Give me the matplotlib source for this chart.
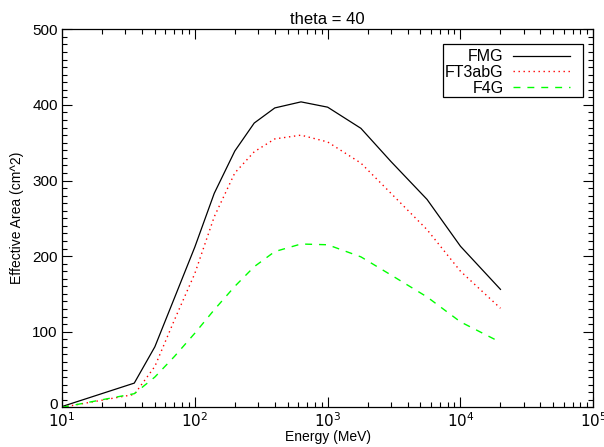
import matplotlib
matplotlib.use("Agg")
import matplotlib.pyplot as plt
import matplotlib.transforms as mtransforms
from matplotlib.patches import Rectangle
from matplotlib.ticker import LogLocator, MultipleLocator, FixedLocator, NullFormatter

plt.rcParams['font.family'] = ['Liberation Sans', 'DejaVu Sans']

energy = [10, 35, 50, 70, 100, 140, 200, 280, 400, 630, 1000, 1780, 3000, 5600, 10000, 20000]
fmg = [1, 32, 80, 144, 212, 283, 339, 376, 396, 404, 397, 369, 325, 275, 213, 156]
ft3abg = [0, 17, 54, 115, 177, 252, 310, 338, 355, 360, 351, 323, 283, 235, 180, 131]
f4g = [0, 18, 40, 67, 98, 129, 160, 186, 206, 216, 215, 199, 175, 146, 113, 86]
series_names = ["FMG", "FT3abG", "F4G"]
title = "theta = 40"
xlabel = "Energy (MeV)"
ylabel = "Effective Area (cm^2)"
xticks = [10, 100, 1000, 10000, 100000]
xticklabels = [r"$10^{1}$", r"$10^{2}$", r"$10^{3}$", r"$10^{4}$", r"$10^{5}$"]
yticks = [0, 100, 200, 300, 400, 500]

fig = plt.figure(figsize=(6.04, 4.47), dpi=100)
ax = fig.add_axes([62/604, 1-407.3/447, (593.3-62)/604, (407.3-29.3)/447])

ax.plot(energy, fmg, color='black', lw=0.9, label=series_names[0])
ax.plot(energy, ft3abg, color='#ff0000', lw=1.0, linestyle=(0, (1, 2.6)), label=series_names[1])
ax.plot(energy, f4g, color='#00ff00', lw=1.0, linestyle=(0, (5, 5)), label=series_names[2])

ax.set_xscale('log')
ax.set_xlim(10, 1e5)
ax.set_ylim(0, 500)
ax.xaxis.set_major_locator(FixedLocator(xticks))
ax.set_xticklabels(xticklabels)
ax.xaxis.set_minor_locator(LogLocator(base=10, subs=range(2, 10), numticks=20))
ax.xaxis.set_minor_formatter(NullFormatter())
ax.yaxis.set_major_locator(FixedLocator(yticks))
ax.yaxis.set_minor_locator(MultipleLocator(10))

ax.tick_params(which='both', direction='in', top=True, right=True, labelsize=11, width=0.8, pad=3)
ax.tick_params(which='major', length=7)
ax.tick_params(which='minor', length=3.6)
for s in ax.spines.values():
    s.set_linewidth(0.9)

# shift the "0" label up slightly (as in the reference) so it clears the x labels
fig.canvas.draw()
ylabels = ax.get_yticklabels()
ylabels[0].set_transform(ylabels[0].get_transform() +
                         mtransforms.ScaledTranslation(0, 4/100, fig.dpi_scale_trans))

ax.set_title(title, fontsize=12, pad=4)
ax.set_xlabel(xlabel, fontsize=10, labelpad=0)
ax.set_ylabel(ylabel, fontsize=10, labelpad=6)

leg = ax.legend(loc='upper right', bbox_to_anchor=(0.966, 0.96), markerfirst=False,
                fontsize=11.5, handlelength=3.57, handletextpad=0.6, labelspacing=0.05,
                borderpad=0.3, frameon=False, borderaxespad=0)
frame = Rectangle((0.717, 0.821), 0.981 - 0.717, 0.960 - 0.821, transform=ax.transAxes,
                  facecolor='white', edgecolor='black', linewidth=0.9, zorder=4)
ax.add_patch(frame)
leg.set_zorder(5)

fig.savefig("out.png", dpi=100)
